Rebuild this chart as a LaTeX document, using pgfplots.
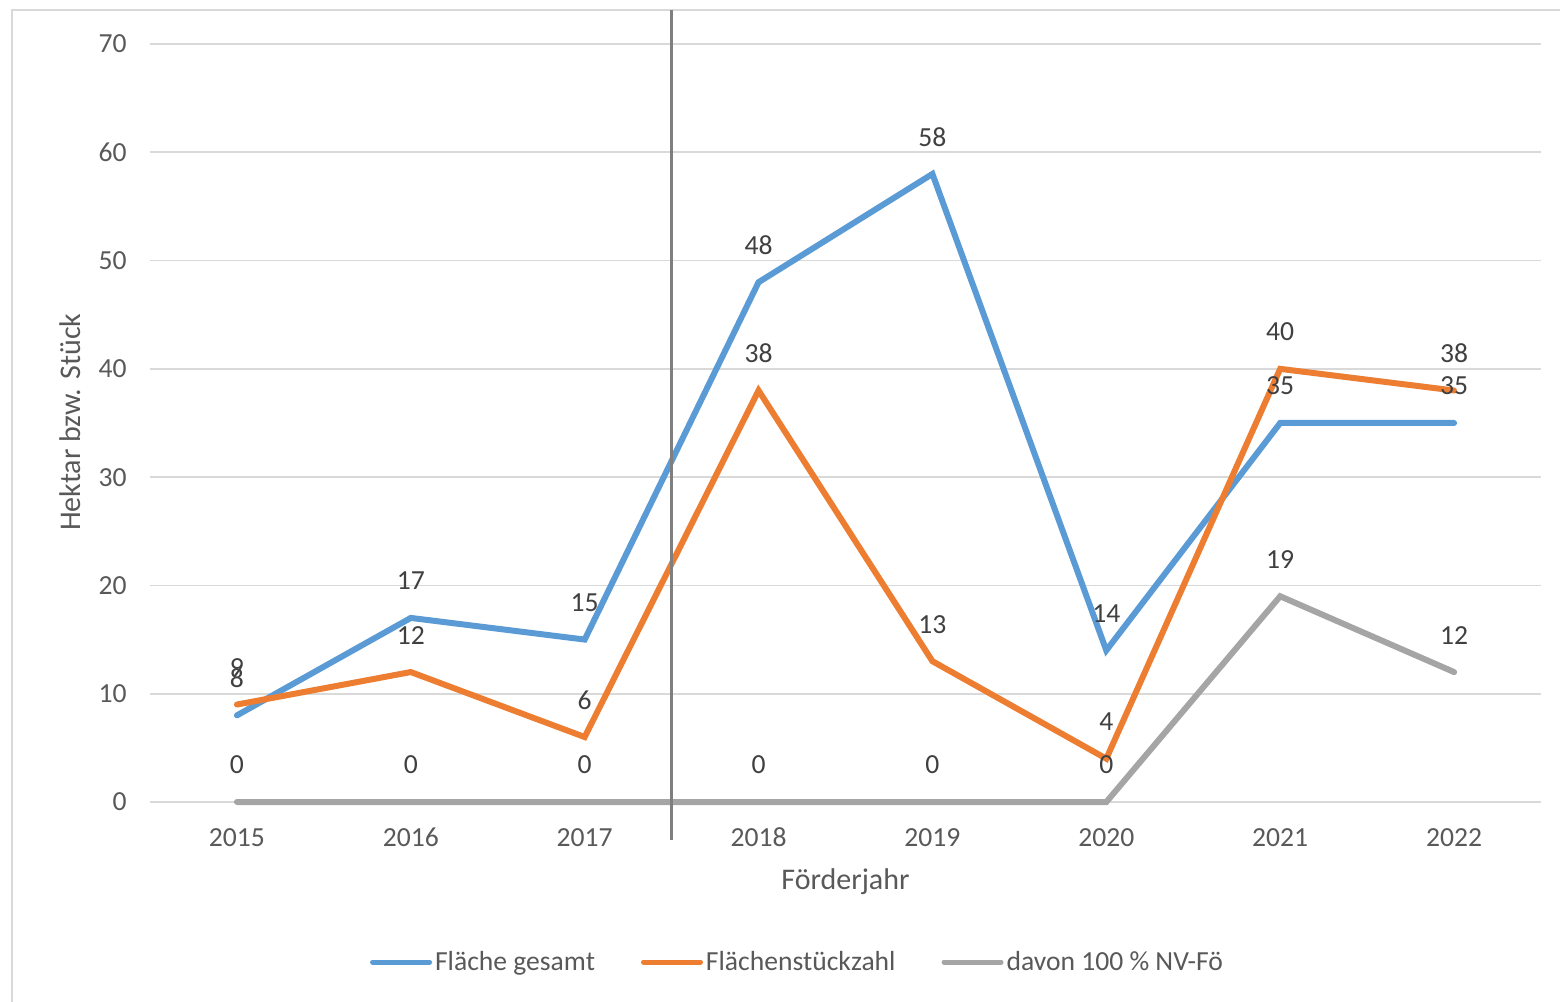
\documentclass[border=0pt]{standalone}
\usepackage{pgfplots}
\pgfplotsset{compat=1.18}
\usepackage{fontspec}
\setmainfont{Carlito}

\definecolor{serblue}{HTML}{5B9BD5}
\definecolor{serorange}{HTML}{ED7D31}
\definecolor{sergray}{HTML}{A5A5A5}
\definecolor{gridgray}{HTML}{D9D9D9}
\definecolor{ticktext}{HTML}{595959}
\definecolor{labeltext}{HTML}{404040}
\definecolor{markline}{HTML}{7F7F7F}

\begin{document}
\begin{tikzpicture}
\useasboundingbox (0pt,0pt) rectangle (780pt,501pt);
% chart frame (left and top edge)
\draw[gridgray, line width=1pt] (6pt,0pt) -- (6pt,496pt) -- (780pt,496pt);

\begin{axis}[
  at={(75pt,100pt)}, anchor=south west,
  scale only axis, width=695.5pt, height=379pt,
  xmin=-0.5, xmax=7.5, ymin=0, ymax=70,
  xtick={0,...,7},
  xticklabels={2015,2016,2017,2018,2019,2020,2021,2022},
  ytick={0,10,...,70},
  axis line style={draw=none},
  tick style={draw=none},
  ymajorgrids,
  grid style={gridgray, line width=0.8pt},
  clip=false,
  /pgf/number format/assume math mode=true,
  tick label style={font=\fontsize{13.8}{16}\selectfont, text=ticktext, inner sep=0pt},
  yticklabel style={anchor=east, xshift=-11.5pt},
  xticklabel style={anchor=base, yshift=-22.5pt},
  xlabel={Förderjahr},
  ylabel={Hektar bzw. Stück},
  label style={font=\fontsize{15}{18}\selectfont, text=ticktext},
  xlabel style={at={(axis description cs:0.5,-0.1055)}, anchor=center},
  ylabel style={at={(axis description cs:-0.0575,0.501)}, anchor=center},
  every axis plot/.append style={line width=3pt, line cap=round, line join=miter},
  nodes near coords,
  every node near coord/.append style={font=\fontsize{13.8}{16}\selectfont, text=labeltext, anchor=center, yshift=18.5pt, inner sep=0pt},
  legend columns=3,
  legend style={at={(axis description cs:0.1582,-0.2111)}, anchor=west, draw=none,
    inner sep=0pt, outer sep=0pt,
    font=\fontsize{13.8}{16}\selectfont, text=ticktext,
    nodes={inner sep=1.5pt},
    /tikz/every even column/.append style={column sep=21.5pt}},
  legend image code/.code={\draw[#1, line width=2.5pt, line cap=round] (1.25pt,0pt) -- (29.75pt,0pt);},
]
\addplot[serblue] coordinates {(0,8) (1,17) (2,15) (3,48) (4,58) (5,14) (6,35) (7,35)};
\addlegendentry{Fläche gesamt}
\addplot[serorange] coordinates {(0,9) (1,12) (2,6) (3,38) (4,13) (5,4) (6,40) (7,38)};
\addlegendentry{Flächenstückzahl}
\addplot[sergray] coordinates {(0,0) (1,0) (2,0) (3,0) (4,0) (5,0) (6,19) (7,12)};
\addlegendentry{davon 100 \% NV-Fö}

% separator between 2017 and 2018
\draw[markline, line width=1.2pt] (axis cs:2.5,-3.5) -- (axis cs:2.5,73.1);
\end{axis}
\end{tikzpicture}
\end{document}
